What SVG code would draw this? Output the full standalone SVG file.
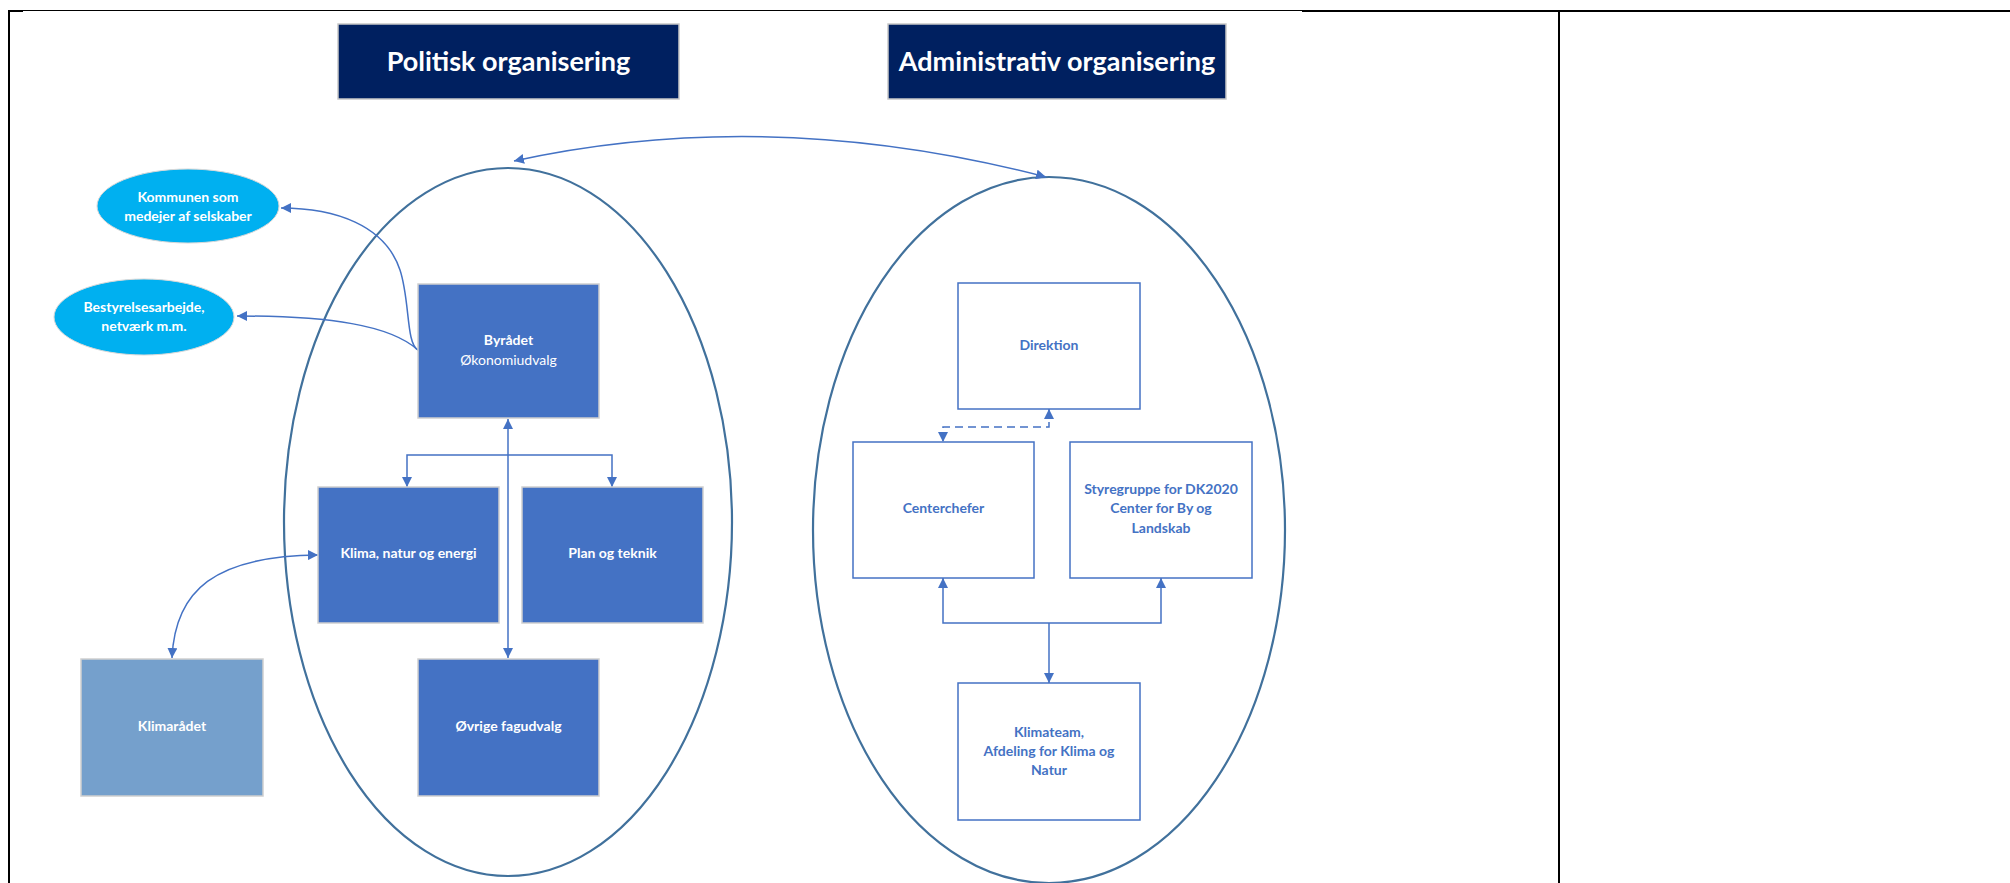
<svg xmlns="http://www.w3.org/2000/svg" width="2010" height="883" viewBox="0 0 2010 883">
<defs>
<marker id="arr" viewBox="0 0 10 10" refX="10" refY="5" markerWidth="10" markerHeight="10" markerUnits="userSpaceOnUse" orient="auto-start-reverse">
<path d="M0,0 L10,5 L0,10 Z" fill="#4472C4"/>
</marker>
</defs>
<style>
.frame{stroke:#000;fill:none}
.title{fill:#002060;stroke:#c8c8c8;stroke-width:1.5}
.ttl{font-family:Lato,"Liberation Sans",sans-serif;font-weight:bold;font-size:27px;fill:#fff;text-anchor:middle}
.big{fill:none;stroke:#41719C;stroke-width:2.2}
.fill{fill:#4472C4;stroke:#cfcfcf;stroke-width:1.5}
.light{fill:#75A0CC;stroke:#cfcfcf;stroke-width:1.5}
.oval{fill:#00B0F0;stroke:#d8d8d8;stroke-width:1}
.wbox{fill:#fff;stroke:#4472C4;stroke-width:1.5}
.t{font-family:Lato,"Liberation Sans",sans-serif;font-weight:bold;font-size:14px;fill:#fff;text-anchor:middle}
.tn{font-family:Lato,"Liberation Sans",sans-serif;font-weight:normal;font-size:14px;fill:#fff;text-anchor:middle}
.tb{font-family:Lato,"Liberation Sans",sans-serif;font-weight:bold;font-size:14px;fill:#4472C4;text-anchor:middle}
.c{fill:none;stroke:#4472C4;stroke-width:1.5}
.d{stroke-dasharray:8,5}
</style>
<rect width="2010" height="883" fill="#fff"/>
<g id="frame">
<line class="frame" x1="8" y1="10.5" x2="1302" y2="10.5" stroke-width="1"/>
<line class="frame" x1="1302" y1="11" x2="2010" y2="11" stroke-width="2"/>
<line class="frame" x1="8" y1="11" x2="23" y2="11" stroke-width="2"/>
<line class="frame" x1="9" y1="10" x2="9" y2="883" stroke-width="2"/>
<line class="frame" x1="1559" y1="11" x2="1559" y2="883" stroke-width="2"/>
</g>
<g id="title-politisk">
<rect class="title" x="338" y="24" width="341" height="75"/>
<text class="ttl" x="508.5" y="71">Politisk organisering</text>
</g>
<g id="title-administrativ">
<rect class="title" x="888" y="24" width="338" height="75"/>
<text class="ttl" x="1057" y="71">Administrativ organisering</text>
</g>
<g id="ellipse-politisk"><ellipse class="big" cx="508" cy="522" rx="224" ry="354"/></g>
<g id="ellipse-administrativ"><ellipse class="big" cx="1049" cy="530" rx="236" ry="353"/></g>
<g id="connectors">
<path class="c" d="M514,161 Q770,105 1046,177" marker-start="url(#arr)" marker-end="url(#arr)"/>
<path class="c" d="M418,350 C406,344 410,300 400,270 C385,225 335,208 281,208" marker-end="url(#arr)"/>
<path class="c" d="M418,350 C390,325 330,316 237,316" marker-end="url(#arr)"/>
<path class="c" d="M508,419 V658" marker-start="url(#arr)" marker-end="url(#arr)"/>
<path class="c" d="M508,455 H407 V487" marker-end="url(#arr)"/>
<path class="c" d="M508,455 H612 V487" marker-end="url(#arr)"/>
<path class="c" d="M172,658 C175,590 215,556 318,555" marker-start="url(#arr)" marker-end="url(#arr)"/>
<path class="c d" d="M1049,409 V427 H943 V442" marker-start="url(#arr)" marker-end="url(#arr)"/>
<path class="c" d="M1049,623 V683" marker-end="url(#arr)"/>
<path class="c" d="M1049,623 H943 V578" marker-end="url(#arr)"/>
<path class="c" d="M1049,623 H1161 V578" marker-end="url(#arr)"/>
</g>
<g id="kommunen">
<ellipse class="oval" cx="188" cy="206" rx="91" ry="37"/>
<text class="t" x="188" y="202">Kommunen som</text>
<text class="t" x="188" y="221">medejer af selskaber</text>
</g>
<g id="bestyrelse">
<ellipse class="oval" cx="144" cy="317" rx="90" ry="38"/>
<text class="t" x="144" y="312">Bestyrelsesarbejde,</text>
<text class="t" x="144" y="331">netværk m.m.</text>
</g>
<g id="byraadet">
<rect class="fill" x="418" y="284" width="181" height="134"/>
<text class="t" x="508.5" y="345">Byrådet</text>
<text class="tn" x="508.5" y="365">Økonomiudvalg</text>
</g>
<g id="klima">
<rect class="fill" x="318" y="487" width="181" height="136"/>
<text class="t" x="408.5" y="558">Klima, natur og energi</text>
</g>
<g id="plan">
<rect class="fill" x="522" y="487" width="181" height="136"/>
<text class="t" x="612.5" y="558">Plan og teknik</text>
</g>
<g id="ovrige">
<rect class="fill" x="418" y="659" width="181" height="137"/>
<text class="t" x="508.5" y="731">Øvrige fagudvalg</text>
</g>
<g id="klimaraadet">
<rect class="light" x="81" y="659" width="182" height="137"/>
<text class="t" x="172" y="731">Klimarådet</text>
</g>
<g id="direktion">
<rect class="wbox" x="958" y="283" width="182" height="126"/>
<text class="tb" x="1049" y="350">Direktion</text>
</g>
<g id="centerchefer">
<rect class="wbox" x="853" y="442" width="181" height="136"/>
<text class="tb" x="943.5" y="513">Centerchefer</text>
</g>
<g id="styregruppe">
<rect class="wbox" x="1070" y="442" width="182" height="136"/>
<text class="tb" x="1161" y="494">Styregruppe for DK2020</text>
<text class="tb" x="1161" y="513">Center for By og</text>
<text class="tb" x="1161" y="533">Landskab</text>
</g>
<g id="klimateam">
<rect class="wbox" x="958" y="683" width="182" height="137"/>
<text class="tb" x="1049" y="737">Klimateam,</text>
<text class="tb" x="1049" y="756">Afdeling for Klima og</text>
<text class="tb" x="1049" y="775">Natur</text>
</g>
</svg>
